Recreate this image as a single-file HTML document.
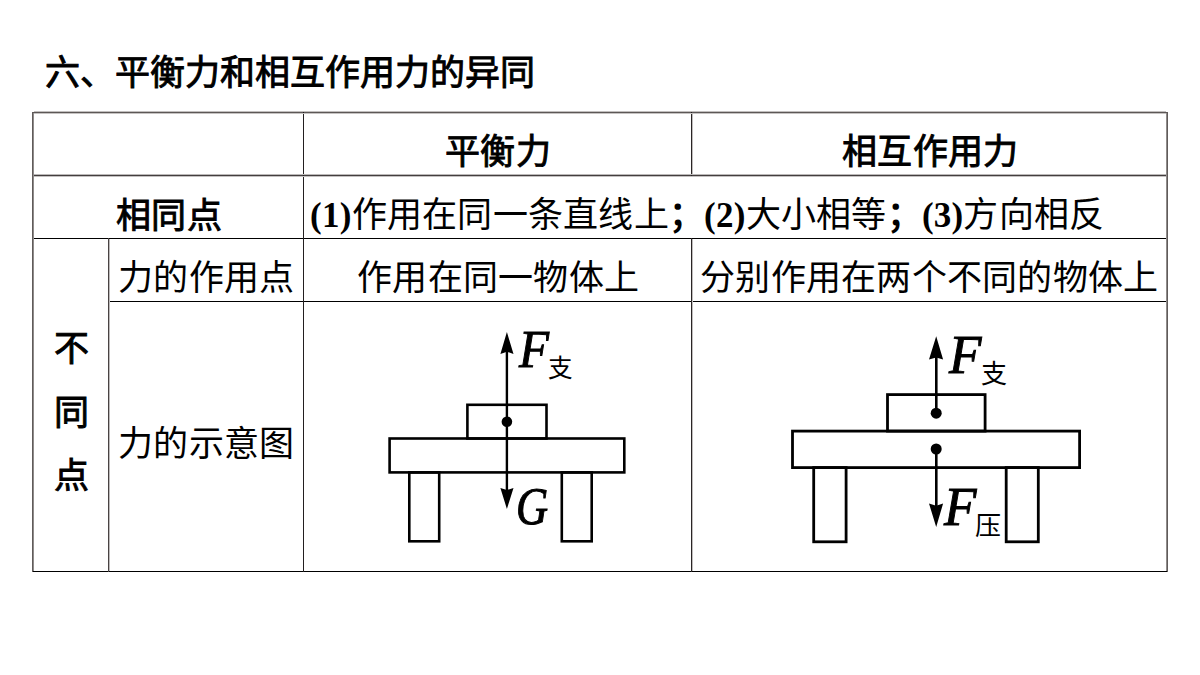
<!DOCTYPE html>
<html lang="zh-CN"><head><meta charset="utf-8">
<style>
html,body{margin:0;padding:0;background:#fff;}
body{width:1200px;height:675px;position:relative;overflow:hidden;font-family:"Liberation Serif",serif;color:#000;}
.a{position:absolute;white-space:nowrap;}
.l{position:absolute;background:#000;}
.hb{font-family:"Liberation Sans",sans-serif;font-weight:normal;-webkit-text-stroke:0.9px #000;}
.s{font-family:"Liberation Serif",serif;}
.t{font-size:35px;line-height:40px;letter-spacing:0.25px;}
.b{font-weight:bold;}
.it{font-style:italic;line-height:1;transform-origin:0 0;-webkit-text-stroke:1px #000;}
</style></head><body>

<div class="a hb t" id="title" style="left:45px;top:53px;letter-spacing:0;">六、平衡力和相互作用力的异同</div>

<!-- table lines -->
<div class="l" style="left:32px;top:112px;width:1136px;height:1px;background:#5c5756;"></div>
<div class="l" style="left:32px;top:175px;width:1136px;height:1px;background:#433e3e;"></div>
<div class="l" style="left:32px;top:238px;width:1136px;height:1px;"></div>
<div class="l" style="left:108px;top:301px;width:1060px;height:1px;"></div>
<div class="l" style="left:32px;top:571px;width:1136px;height:1px;"></div>
<div class="l" style="left:32px;top:112px;width:1px;height:460px;background:#605b5a;"></div>
<div class="l" style="left:33px;top:113px;width:1px;height:458px;background:#8f8b8a;"></div>
<div class="l" style="left:108px;top:238px;width:1px;height:334px;background:#484343;"></div>
<div class="l" style="left:303px;top:112px;width:1px;height:460px;background:#231f20;"></div>
<div class="l" style="left:691px;top:112px;width:1px;height:64px;background:#2a2525;"></div>
<div class="l" style="left:691px;top:238px;width:1px;height:334px;background:#2a2525;"></div>
<div class="l" style="left:1167px;top:112px;width:1px;height:460px;background:#605b5a;"></div>
<div class="l" style="left:1166px;top:113px;width:1px;height:458px;background:#8f8b8a;"></div>

<div class="l" style="left:34px;top:111px;width:1132px;height:1px;background:#c2bfbe;"></div>
<div class="l" style="left:34px;top:113px;width:1132px;height:1px;background:#c6c3c2;"></div>
<div class="l" style="left:34px;top:174px;width:1132px;height:1px;background:#bcb9b9;"></div>
<div class="l" style="left:34px;top:176px;width:1132px;height:1px;background:#c4c1c1;"></div>
<div class="l" style="left:109px;top:239px;width:1px;height:332px;background:#bdbaba;"></div>
<div class="l" style="left:692px;top:113px;width:1px;height:62px;background:#c0bdbd;"></div>
<div class="l" style="left:692px;top:239px;width:1px;height:332px;background:#c0bdbd;"></div>

<!-- header row -->
<div class="a hb t" style="left:445px;top:132px;">平衡力</div>
<div class="a hb t" style="left:842px;top:132px;">相互作用力</div>

<!-- same row -->
<div class="a hb t" style="left:116px;top:196px;">相同点</div>
<div class="a s t" style="left:310px;top:196px;"><span class="b">(1)</span>作用在同一条直线上<span class="b">；(2)</span>大小相等<span class="b">；(3)</span>方向相反</div>

<!-- diff rows -->
<div class="a hb t" style="left:54px;top:329px;">不</div>
<div class="a hb t" style="left:54px;top:393px;">同</div>
<div class="a hb t" style="left:54px;top:456px;">点</div>

<div class="a s t" style="left:118px;top:259px;">力的作用点</div>
<div class="a s t" style="left:357px;top:259px;">作用在同一物体上</div>
<div class="a s t" style="left:700px;top:259px;">分别作用在两个不同的物体上</div>
<div class="a s t" style="left:118px;top:425px;">力的示意图</div>

<!-- left diagram -->
<svg class="a" style="left:0;top:0" width="1200" height="675" viewBox="0 0 1200 675">
 <g fill="none" stroke="#000" stroke-width="2.6">
  <rect x="389.6" y="438.5" width="234.7" height="33.9"/>
  <rect x="467.4" y="404.8" width="79.1" height="33.7"/>
  <rect x="409.3" y="472.4" width="29.9" height="68.9"/>
  <rect x="561.8" y="472.4" width="29.9" height="68.9"/>
 </g>
 <line x1="506.9" y1="350" x2="506.9" y2="491" stroke="#000" stroke-width="2.4"/>
 <g fill="#000">
  <path d="M506.9 332.1 L513.5 354 L506.9 351.7 L500.4 354 Z"/>
  <path d="M506.9 509 L513.5 487.9 L506.9 490.1 L500.4 487.9 Z"/>
  <circle cx="506.9" cy="421.8" r="5.3"/>
 </g>
 <!-- right diagram -->
 <g fill="none" stroke="#000" stroke-width="2.8">
  <rect x="792.5" y="431.1" width="287.1" height="36.5"/>
  <rect x="887.5" y="394.6" width="97.6" height="36.5"/>
  <rect x="813.7" y="467.6" width="32.4" height="74.2"/>
  <rect x="1006.2" y="467.6" width="32.1" height="74.2"/>
 </g>
 <g stroke="#000" stroke-width="2.6">
  <line x1="936.3" y1="356" x2="936.3" y2="413"/>
  <line x1="936.3" y1="449" x2="936.3" y2="507"/>
 </g>
 <g fill="#000">
  <path d="M936.2 336.3 L943.1 359.5 L936.2 357.5 L929 359.5 Z"/>
  <path d="M936.2 527 L943.1 503.5 L936.2 505.8 L929 503.5 Z"/>
  <circle cx="936.2" cy="413.2" r="5.5"/>
  <circle cx="936.2" cy="449" r="5.5"/>
 </g>
</svg>
<div class="a s it" style="left:519px;top:323px;font-size:52.5px;transform:scaleX(0.935);">F</div>
<div class="a s" style="left:548px;top:354.5px;font-size:24.5px;line-height:28px;">支</div>
<div class="a s it" style="left:515.5px;top:479.5px;font-size:52.4px;transform:scaleX(0.85);">G</div>
<div class="a s it" style="left:949px;top:326.5px;font-size:55.5px;transform:scaleX(0.956);">F</div>
<div class="a s" style="left:980.5px;top:360.5px;font-size:26px;line-height:28px;">支</div>
<div class="a s it" style="left:944px;top:478.5px;font-size:55.5px;transform:scaleX(0.956);">F</div>
<div class="a s" style="left:974.5px;top:512.5px;font-size:26px;line-height:28px;">压</div>

</body></html>
